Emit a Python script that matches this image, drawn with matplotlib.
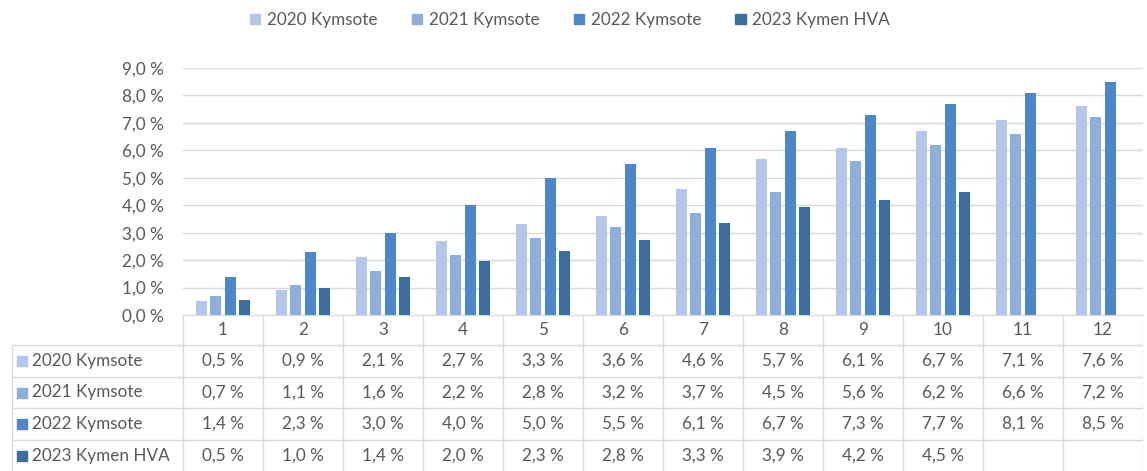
import numpy as np
import matplotlib
matplotlib.use("Agg")
import matplotlib.pyplot as plt
from matplotlib.patches import Patch

plt.rcParams['font.family'] = ['Lato', 'DejaVu Sans']

months = [str(m) for m in range(1, 13)]
series = ["2020 Kymsote", "2021 Kymsote", "2022 Kymsote", "2023 Kymen HVA"]
v2020 = [0.5, 0.9, 2.1, 2.7, 3.3, 3.6, 4.6, 5.7, 6.1, 6.7, 7.1, 7.6]
v2021 = [0.7, 1.1, 1.6, 2.2, 2.8, 3.2, 3.7, 4.5, 5.6, 6.2, 6.6, 7.2]
v2022 = [1.4, 2.3, 3.0, 4.0, 5.0, 5.5, 6.1, 6.7, 7.3, 7.7, 8.1, 8.5]
v2023 = [0.5, 1.0, 1.4, 2.0, 2.3, 2.8, 3.3, 3.9, 4.2, 4.5, None, None]
# bar heights as drawn (slightly different from the rounded table values)
h2023 = [0.55, 1.0, 1.4, 1.95, 2.35, 2.75, 3.35, 3.95, 4.2, 4.5, None, None]
values = [v2020, v2021, v2022, v2023]
heights = [v2020, v2021, v2022, h2023]
colors = ["#b4c7e7", "#8eafdc", "#4d87c7", "#3b6e9f"]
txt = "#595959"
grid = "#d9d9d9"
fs = 12.3

W, H = 1147, 471
fig = plt.figure(figsize=(W / 100, H / 100), dpi=100)
ax = fig.add_axes([183 / W, 156 / H, 960 / W, 247 / H])

x = np.arange(len(months))
step, bw = 0.18, 0.135
for i, (hs, c) in enumerate(zip(heights, colors)):
    xs = [xx + (i - 1.5) * step for xx, h in zip(x, hs) if h is not None]
    ys = [h for h in hs if h is not None]
    ax.bar(xs, ys, width=bw, color=c, zorder=3)

ax.set_xlim(-0.5, 11.5)
ax.set_ylim(0, 9)
ax.set_yticks(np.arange(0, 10, 1))
ax.set_yticklabels([f"{t:.1f} %".replace(".", ",") for t in range(10)], color=txt, fontsize=fs)
ax.tick_params(axis='y', length=0, pad=14)
ax.set_xticks([])
ax.grid(axis='y', color=grid, lw=1, zorder=0)
for s in ["top", "right", "left"]:
    ax.spines[s].set_visible(False)
ax.spines["bottom"].set_color(grid)

# data table below the chart
left = -0.5 - (183 - 12) / 80
tb = fig.add_axes([12 / W, 0, (1143 - 12) / W, 156 / H])
tb.set_xlim(left, 11.5)
tb.set_ylim(156, 0)
tb.axis("off")
rows = [0, 30, 62, 93, 125, 156]
for y in rows[1:-1]:
    tb.plot([left, 11.5], [y, y], color=grid, lw=1)
for k in range(13):
    tb.plot([k - 0.5, k - 0.5], [0, 156], color=grid, lw=1)
tb.plot([left, left], [30, 156], color=grid, lw=1)
for k, m in enumerate(months):
    tb.text(k, 15, m, ha="center", va="center", color=txt, fontsize=fs)
for r, (name, vals, c) in enumerate(zip(series, values, colors)):
    yc = (rows[r + 1] + rows[r + 2]) / 2
    tb.scatter([left + 0.12], [yc], marker="s", s=45, color=c)
    tb.text(left + 0.25, yc, name, ha="left", va="center", color=txt, fontsize=fs)
    for k, v in enumerate(vals):
        if v is not None:
            tb.text(k, yc, f"{v:.1f} %".replace(".", ","), ha="center", va="center",
                    color=txt, fontsize=fs)

handles = [Patch(color=c, label=n) for n, c in zip(series, colors)]
fig.legend(handles=handles, loc="center", bbox_to_anchor=(0.497, 1 - 20 / H), ncol=4,
           frameon=False, fontsize=fs, labelcolor=txt, handlelength=0.6, handleheight=0.6,
           handletextpad=0.4, columnspacing=2.0)

fig.savefig("out.png", dpi=100)
